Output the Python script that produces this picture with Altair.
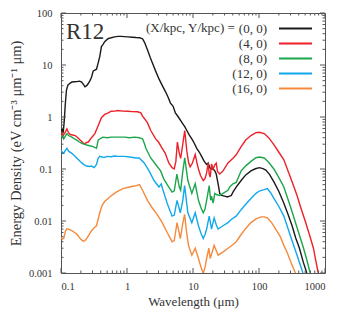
import altair as alt
import pandas as pd

series_names = ["(0, 0)", "(4, 0)", "(8, 0)", "(12, 0)", "(16, 0)"]
line_colors = ["#1a1a1a", "#ee2028", "#1ca64c", "#12a8ec", "#f58a3c"]
panel_label = ["R12"]

x_major = [0.1, 1, 10, 100, 1000]
y_major = [0.001, 0.01, 0.1, 1, 10, 100]
x_minor = [m * d for d in [0.1, 1, 10, 100] for m in range(2, 10)]
y_minor = [m * d for d in [0.001, 0.01, 0.1, 1, 10] for m in range(2, 10)]

# [wavelength (um), energy density]
sed_0_0 = [[0.1,0.45],[0.104,0.62],[0.108,0.5],[0.112,0.84],[0.116,1.72],[0.121,3.3],[0.127,4.1],[0.138,4.5],[0.146,4.7],[0.16,4.75],[0.173,4.8],[0.19,4.9],[0.206,4.7],[0.22,4.2],[0.231,3.8],[0.245,4.0],[0.259,4.4],[0.275,5.0],[0.29,5.8],[0.308,7.7],[0.326,8.0],[0.345,8.3],[0.366,11],[0.387,14.7],[0.41,22.6],[0.434,25],[0.459,28],[0.515,32],[0.578,33.5],[0.649,34.7],[0.728,35.5],[0.815,35.5],[0.914,35.2],[1.03,34.7],[1.2,34.2],[1.37,33.7],[1.55,33.5],[1.72,32],[1.85,27],[2.04,19.6],[2.25,14],[2.42,11.1],[2.7,7.8],[3.05,5.4],[3.4,4.1],[3.84,3.05],[4.2,2.4],[4.55,1.85],[5.0,1.6],[5.41,1.2],[6.0,1.0],[6.81,0.78],[7.5,0.65],[8.07,0.55],[8.8,0.45],[9.6,0.38],[10.5,0.31],[11.4,0.25],[12.5,0.21],[13.5,0.175],[14.8,0.14],[16.1,0.122],[17.0,0.13],[18.0,0.105],[19.1,0.1],[20.2,0.1],[21.4,0.092],[22.5,0.08],[23.5,0.06],[24.5,0.045],[25.4,0.034],[27,0.031],[30.2,0.030],[33,0.029],[35.9,0.030],[38,0.031],[40.3,0.036],[45.1,0.045],[53.6,0.06],[63,0.077],[75.5,0.092],[88,0.101],[101,0.106],[115,0.102],[127,0.095],[145,0.078],[169,0.056],[200,0.037],[238,0.022],[275,0.0135],[317,0.0081],[360,0.0047],[410,0.003],[470,0.0016],[530,0.001]]
sed_4_0 = [[0.1,0.41],[0.104,0.52],[0.108,0.44],[0.115,0.5],[0.123,0.59],[0.13,0.5],[0.138,0.46],[0.15,0.45],[0.164,0.44],[0.18,0.4],[0.195,0.36],[0.21,0.33],[0.226,0.3],[0.24,0.32],[0.259,0.33],[0.29,0.4],[0.326,0.48],[0.36,0.65],[0.41,0.97],[0.459,1.12],[0.52,1.2],[0.578,1.29],[0.65,1.3],[0.728,1.33],[0.863,1.3],[1.03,1.29],[1.2,1.27],[1.45,1.26],[1.62,1.2],[1.72,1.04],[2.04,0.78],[2.29,0.55],[2.72,0.38],[3.0,0.33],[3.42,0.25],[3.8,0.2],[4.3,0.131],[4.82,0.106],[5.2,0.1],[5.5,0.14],[5.8,0.33],[6.2,0.2],[6.5,0.16],[7.0,0.3],[7.5,0.55],[8.07,0.22],[8.6,0.13],[9.06,0.11],[9.8,0.13],[10.8,0.19],[11.5,0.13],[12.1,0.1],[13,0.075],[14.3,0.06],[15.2,0.065],[16.1,0.085],[17.0,0.13],[17.6,0.08],[18.2,0.07],[19.1,0.125],[20.2,0.1],[21.4,0.12],[22.5,0.13],[23.5,0.09],[25.4,0.08],[28.5,0.092],[33.9,0.131],[40,0.16],[45.1,0.188],[53.6,0.27],[63,0.36],[75.5,0.44],[90,0.5],[101,0.51],[120,0.48],[140,0.4],[169,0.29],[200,0.21],[238,0.15],[282,0.085],[320,0.055],[377,0.031],[430,0.018],[501,0.01],[580,0.0055],[668,0.003],[720,0.0018],[790,0.001]]
sed_8_0 = [[0.1,0.41],[0.105,0.44],[0.11,0.38],[0.115,0.42],[0.123,0.48],[0.13,0.44],[0.146,0.41],[0.16,0.38],[0.173,0.36],[0.19,0.33],[0.206,0.31],[0.225,0.3],[0.245,0.29],[0.27,0.28],[0.308,0.27],[0.345,0.25],[0.366,0.36],[0.4,0.39],[0.434,0.41],[0.5,0.4],[0.578,0.41],[0.7,0.41],[0.914,0.41],[1.1,0.4],[1.3,0.41],[1.53,0.40],[1.72,0.38],[1.85,0.3],[1.93,0.25],[2.29,0.163],[2.72,0.122],[3.23,0.092],[3.62,0.064],[4.3,0.045],[4.82,0.036],[5.2,0.038],[5.7,0.08],[6.2,0.045],[6.5,0.039],[7.0,0.09],[7.5,0.163],[8.36,0.06],[9.6,0.034],[10.8,0.052],[12.1,0.025],[13.2,0.018],[14.3,0.0144],[15.2,0.017],[16.1,0.025],[17.6,0.048],[18.5,0.025],[19.1,0.03],[20.2,0.022],[21.4,0.034],[23,0.032],[25.4,0.031],[28.5,0.034],[33.9,0.039],[36,0.045],[40.3,0.052],[45.1,0.055],[53.6,0.092],[63,0.115],[75.5,0.14],[90,0.165],[101,0.17],[120,0.163],[140,0.135],[169,0.099],[200,0.068],[238,0.045],[299,0.019],[377,0.0075],[473,0.003],[530,0.0018],[596,0.001]]
sed_12_0 = [[0.1,0.23],[0.105,0.21],[0.11,0.2],[0.117,0.23],[0.123,0.25],[0.13,0.22],[0.146,0.2],[0.16,0.18],[0.173,0.163],[0.19,0.145],[0.206,0.131],[0.225,0.12],[0.245,0.114],[0.27,0.112],[0.29,0.114],[0.318,0.106],[0.345,0.122],[0.366,0.16],[0.387,0.175],[0.42,0.17],[0.459,0.168],[0.5,0.175],[0.578,0.172],[0.65,0.178],[0.728,0.175],[0.914,0.175],[1.1,0.17],[1.37,0.163],[1.53,0.163],[1.82,0.131],[2.16,0.092],[2.57,0.06],[3.05,0.045],[3.3,0.052],[3.5,0.04],[4.06,0.022],[4.82,0.0124],[5.2,0.013],[5.73,0.025],[6.43,0.0144],[7.0,0.025],[7.46,0.048],[8.36,0.0144],[9.6,0.0093],[10.8,0.0144],[12.1,0.0081],[13.2,0.0058],[14.3,0.0046],[15.2,0.0055],[16.1,0.007],[17.6,0.0124],[19.1,0.007],[20.9,0.0115],[22.5,0.0085],[24.0,0.007],[26,0.0075],[28.5,0.0081],[33.9,0.0093],[38.0,0.0107],[45.1,0.0124],[53.6,0.0165],[63,0.021],[75.5,0.027],[90,0.034],[101,0.0377],[120,0.04],[134,0.042],[150,0.035],[169,0.027],[200,0.019],[238,0.0124],[299,0.0052],[377,0.0022],[463,0.001]]
sed_16_0 = [[0.1,0.0049],[0.105,0.0045],[0.11,0.0046],[0.117,0.0065],[0.123,0.0071],[0.135,0.0068],[0.146,0.0065],[0.16,0.006],[0.173,0.0056],[0.195,0.0046],[0.216,0.0041],[0.23,0.0042],[0.245,0.0046],[0.27,0.0056],[0.29,0.0065],[0.32,0.0075],[0.345,0.0081],[0.387,0.0144],[0.42,0.02],[0.459,0.0237],[0.546,0.029],[0.687,0.036],[0.863,0.042],[1.09,0.045],[1.3,0.047],[1.55,0.05],[1.72,0.039],[2.04,0.025],[2.42,0.0178],[2.88,0.0133],[3.42,0.0093],[4.06,0.006],[4.82,0.004],[5.2,0.0042],[5.73,0.0093],[6.43,0.0046],[7.0,0.009],[7.46,0.0134],[8.0,0.006],[8.55,0.0034],[9.6,0.0022],[10.8,0.003],[12.1,0.0019],[13.2,0.0013],[14.3,0.00098],[15.2,0.0013],[16.1,0.0019],[17.4,0.003],[18.2,0.0019],[19.5,0.0025],[20.9,0.0034],[22.5,0.0027],[24.0,0.0022],[28,0.0025],[33.9,0.003],[40,0.0035],[45.1,0.004],[53.6,0.0055],[63,0.0072],[75.5,0.0093],[90,0.011],[107,0.012],[120,0.012],[134,0.0115],[155,0.0093],[179,0.007],[210,0.005],[238,0.0034],[270,0.0024],[299,0.0017],[356,0.001]]

series_points = [sed_0_0, sed_4_0, sed_8_0, sed_12_0, sed_16_0]

rows = []
for name, pts in zip(series_names, series_points):
    for wl, ed in pts:
        rows.append({"wl": wl, "ed": ed, "pos": name})
df = pd.DataFrame(rows)

FONT = "Liberation Serif"
TXT = "#333333"
FRAME = "#555555"

xs = alt.Scale(type="log", domain=[0.1, 1000])
ys = alt.Scale(type="log", domain=[0.001, 100])

lines = alt.Chart(df).mark_line(strokeWidth=1.4, clip=True).encode(
    x=alt.X("wl:Q", scale=xs, axis=alt.Axis(
        values=x_major, format="~g", ticks=False, domain=False, grid=False,
        title="Wavelength (μm)", labelPadding=8, titlePadding=4)),
    y=alt.Y("ed:Q", scale=ys, axis=alt.Axis(
        values=y_major, format="~g", ticks=False, domain=False, grid=False,
        title="Energy Density (eV cm⁻³ μm⁻¹ μm)", labelPadding=9, titlePadding=5,
        titleFontSize=14.5)),
    color=alt.Color("pos:N", scale=alt.Scale(domain=series_names, range=line_colors),
                    sort=series_names,
                    legend=alt.Legend(
                        title="(X/kpc, Y/kpc) =",
                        orient="top-right", offset=9, padding=0,
                        titleOrient="left", titleAnchor="start",
                        titleFont=FONT, titleFontSize=13, titleFontWeight="normal",
                        titleColor=TXT, titlePadding=53,
                        labelFont=FONT, labelFontSize=13, labelColor=TXT,
                        labelAlign="right", labelOffset=alt.ExprRef(expr="-35"),
                        symbolType="M-3,0H3", symbolSize=121, symbolStrokeWidth=2,
                        rowPadding=1)),
)


def x_ticks(values, edge, size, sign):
    return alt.Chart(pd.DataFrame({"v": values})).mark_tick(
        orient="vertical", size=size, thickness=1, color=FRAME, opacity=1,
        yOffset=sign * size / 2
    ).encode(
        x=alt.X("v:Q", scale=xs, axis=None),
        y=alt.YDatum(edge, scale=ys, axis=None),
    )


def y_ticks(values, edge, size, sign):
    return alt.Chart(pd.DataFrame({"v": values})).mark_tick(
        orient="horizontal", size=size, thickness=1, color=FRAME, opacity=1,
        xOffset=sign * size / 2
    ).encode(
        y=alt.Y("v:Q", scale=ys, axis=None),
        x=alt.XDatum(edge, scale=xs, axis=None),
    )


label = alt.Chart(pd.DataFrame({"t": panel_label})).mark_text(
    font=FONT, fontSize=23, align="left", baseline="alphabetic", color=TXT
).encode(text="t:N", x=alt.value(5), y=alt.value(26))

chart = alt.layer(
    lines,
    x_ticks(x_major, 0.001, 5, -1),
    x_ticks(x_minor, 0.001, 2.5, -1),
    x_ticks(x_major, 100, 5, 1),
    x_ticks(x_minor, 100, 2.5, 1),
    y_ticks(y_major, 0.1, 5, 1),
    y_ticks(y_minor, 0.1, 2.5, 1),
    y_ticks(y_major, 1000, 5, -1),
    y_ticks(y_minor, 1000, 2.5, -1),
    label,
).resolve_axis(x="independent", y="independent").properties(
    width=264, height=260, padding=0
).configure_view(stroke=FRAME, strokeWidth=1).configure_axis(
    labelFont=FONT, labelFontSize=10.5, labelColor=TXT,
    titleFont=FONT, titleFontSize=13, titleColor=TXT, titleFontWeight="normal"
)

chart.save("out.html", embed_options={"renderer": "svg", "actions": False})
